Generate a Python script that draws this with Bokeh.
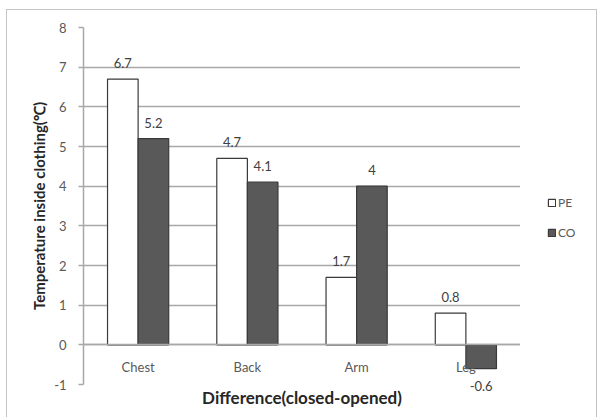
from bokeh.plotting import figure
from bokeh.layouts import row
from bokeh.models import (ColumnDataSource, FactorRange, Range1d, Legend, LegendItem,
                          SingleIntervalTicker, PrintfTickFormatter, Title)
from bokeh.transform import dodge
from bokeh.core.properties import value
from bokeh.embed import file_html
from bokeh.resources import INLINE

# Difference in temperature inside clothing (closed - opened), per body site
sites = ["Chest", "Back", "Arm", "Leg"]
pe_values = [6.7, 4.7, 1.7, 0.8]
co_values = [5.2, 4.1, 4.0, -0.6]
series = ["PE", "CO"]
y_ticks = [-1, 0, 1, 2, 3, 4, 5, 6, 7, 8]

FONT = "Lato"
BAR_W = 0.28
FILLS = {"PE": "#ffffff", "CO": "#595959"}
EDGE = "#3a3a3a"
GRID = "#a8a8a8"
TXT = "#595959"

source = ColumnDataSource(data=dict(site=sites, PE=pe_values, CO=co_values))

p = figure(
    width=513, height=407,
    x_range=FactorRange(*sites, range_padding=0),
    y_range=Range1d(y_ticks[0], y_ticks[-1]),
    output_backend="svg", toolbar_location=None,
    min_border_left=76, min_border_right=0, min_border_top=17, min_border_bottom=33,
    background_fill_color="white", border_fill_color="white",
    outline_line_color=None,
)

# bars, PE to the left of CO within each site
offsets = {"PE": -BAR_W / 2, "CO": BAR_W / 2}
for name in series:
    p.vbar(x=dodge("site", offsets[name], range=p.x_range), top=name, bottom=0, width=BAR_W,
           source=source, fill_color=FILLS[name], line_color=EDGE, line_width=1.2)

# value labels: above positive bars, below negative ones
for name, vals in (("PE", pe_values), ("CO", co_values)):
    for positive in (True, False):
        pick = [(s, v) for s, v in zip(sites, vals) if (v >= 0) == positive]
        if not pick:
            continue
        src = ColumnDataSource(dict(x=[s for s, _ in pick], y=[v for _, v in pick],
                                    t=[f"{v:g}" for _, v in pick]))
        p.text(x=dodge("x", offsets[name], range=p.x_range), y="y", text="t", source=src,
               text_font=value(FONT), text_font_size="13px", text_color="#404040",
               text_align="center",
               text_baseline="bottom" if positive else "top",
               y_offset=-11 if positive else 12, level="overlay")

# category axis sitting on the zero line, its labels drawn over the bars
p.xaxis.fixed_location = 0
p.xaxis.level = "overlay"
p.xaxis.axis_line_color = GRID
p.xaxis.axis_line_width = 1.5
p.xaxis.major_tick_line_color = None
p.xaxis.minor_tick_line_color = None
p.xaxis.major_label_standoff = 8
p.xaxis.major_label_text_font = FONT
p.xaxis.major_label_text_font_size = "13px"
p.xaxis.major_label_text_color = TXT
p.xgrid.grid_line_color = None

# value axis
p.yaxis.ticker = SingleIntervalTicker(interval=1)
p.yaxis.formatter = PrintfTickFormatter(format="%d")
p.yaxis.axis_line_color = GRID
p.yaxis.axis_line_width = 1.5
p.yaxis.major_tick_line_color = GRID
p.yaxis.major_tick_line_width = 1.5
p.yaxis.major_tick_out = 5
p.yaxis.major_tick_in = 0
p.yaxis.minor_tick_line_color = None
p.yaxis.major_label_text_font = FONT
p.yaxis.major_label_text_font_size = "13px"
p.yaxis.major_label_text_color = TXT
p.yaxis.major_label_standoff = 12
p.yaxis.axis_label = "Temperature inside clothing(\u2103)"
p.yaxis.axis_label_text_font = FONT
p.yaxis.axis_label_text_font_style = "bold"
p.yaxis.axis_label_text_font_size = "15px"
p.yaxis.axis_label_text_color = "#262626"
p.yaxis.axis_label_standoff = 3
p.ygrid.grid_line_color = GRID
p.ygrid.grid_line_width = 1.5

# x axis title under the plot area
p.add_layout(Title(text="Difference(closed-opened)", align="center",
                   text_font=FONT, text_font_style="bold", text_font_size="17px",
                   text_color="#262626", standoff=0), "below")

# legend strip to the right of the plot area
key = figure(
    width=76, height=407, x_range=Range1d(0, 1), y_range=Range1d(0, 1),
    output_backend="svg", toolbar_location=None,
    min_border=0, outline_line_color=None,
    background_fill_color="white", border_fill_color="white",
)
key.axis.visible = False
key.grid.visible = False
key_items = []
for name in series:
    # a single empty (NaN) bar gives the legend its swatch without drawing anything
    r = key.vbar(x=[0.5], top=[float("nan")], width=0.1,
                 fill_color=FILLS[name], line_color=EDGE, line_width=1.2)
    key_items.append(LegendItem(label=name, renderers=[r]))
legend = Legend(
    items=key_items, location=(27, 142), orientation="vertical",
    background_fill_alpha=0, border_line_color=None,
    label_text_font=FONT, label_text_font_size="12px", label_text_color=TXT,
    glyph_width=9, glyph_height=9, label_standoff=2, spacing=10, padding=0, margin=0,
    label_height=20,
)
key.add_layout(legend, "center")

layout = row(p, key, margin=(9, 0, 0, 6), spacing=0)
layout.styles = {"border": "1px solid #c4c4c4"}

open("out.html", "w").write(file_html(layout, INLINE))
